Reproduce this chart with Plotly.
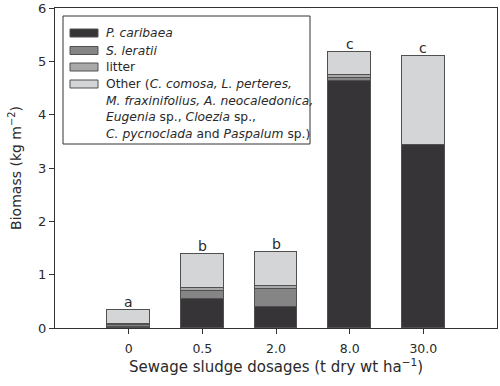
import plotly.graph_objects as go

# ---- data ----
dosages = ["0", "0.5", "2.0", "8.0", "30.0"]
p_caribaea = [0.02, 0.54, 0.39, 4.64, 3.43]
s_leratii = [0.03, 0.16, 0.35, 0.05, 0.00]
litter = [0.02, 0.05, 0.055, 0.05, 0.00]
other = [0.27, 0.63, 0.625, 0.44, 1.67]
sig_letters = ["a", "b", "b", "c", "c"]

series_names = ["P. caribaea", "S. leratii", "litter", "Other"]
series_colors = ["#363436", "#858585", "#a9a9a9", "#d4d5d7"]
legend_lines = [
    "<i>P. caribaea</i>",
    "<i>S. leratii</i>",
    "litter",
    "Other (<i>C. comosa, L. perteres,</i>",
    "<i>M. fraxinifolius, A. neocaledonica,</i>",
    "<i>Eugenia</i> sp., <i>Cloezia</i> sp.,",
    "<i>C. pycnoclada</i> and <i>Paspalum</i> sp.)",
]

FONT = "DejaVu Sans, Liberation Sans, sans-serif"
TXT = "#2a2a2a"
xpos = list(range(len(dosages)))

fig = go.Figure()
for name, vals, col in zip(series_names, [p_caribaea, s_leratii, litter, other], series_colors):
    fig.add_trace(go.Bar(
        x=xpos, y=vals, name=name, width=0.58,
        marker=dict(color=col, line=dict(color="#505050", width=1)),
        showlegend=False,
    ))

totals = [a + b + c + d for a, b, c, d in zip(p_caribaea, s_leratii, litter, other)]
for x, t, lab in zip(xpos, totals, sig_letters):
    fig.add_annotation(x=x, y=t, text=lab, showarrow=False, yanchor="bottom",
                       yshift=-2, font=dict(size=14, color=TXT, family=FONT))

# ---- manual legend (pixel layout converted to paper coords) ----
L, R, T, B = 55, 497, 8, 328
def px(x):
    return (x - L) / (R - L)
def py(y):
    return (B - y) / (B - T)

fig.add_shape(type="rect", xref="paper", yref="paper",
              x0=px(63), x1=px(310), y0=py(144), y1=py(16),
              line=dict(color="#333", width=1), fillcolor="white", layer="above")
row_y = [33, 50.5, 67, 84, 100.7, 117.4, 134]
for i, col in enumerate(series_colors):
    fig.add_shape(type="rect", xref="paper", yref="paper",
                  x0=px(70), x1=px(98), y0=py(row_y[i] + 4), y1=py(row_y[i] - 4),
                  line=dict(color="#505050", width=1), fillcolor=col, layer="above")
for i, txt in enumerate(legend_lines):
    fig.add_annotation(xref="paper", yref="paper", x=px(106), y=py(row_y[i]),
                       text=txt, showarrow=False, xanchor="left", yanchor="middle",
                       xshift=-2, font=dict(size=12.3, color=TXT, family=FONT))

fig.update_layout(
    width=500, height=386,
    margin=dict(l=L, r=500 - R, t=T, b=386 - B),
    paper_bgcolor="white", plot_bgcolor="white",
    barmode="stack", bargap=0,
    font=dict(family=FONT, color=TXT),
)
fig.update_xaxes(
    range=[-1, 5], tickmode="array", tickvals=xpos, ticktext=dosages,
    showline=True, linecolor="#333", linewidth=1, mirror=True,
    ticks="outside", ticklen=5, tickcolor="#333", showgrid=False, zeroline=False,
    tickfont=dict(size=12.5), automargin=False, ticklabelstandoff=4,
    title=dict(text="Sewage sludge dosages (t dry wt ha<sup>−1</sup>)", font=dict(size=15), standoff=4),
)
fig.update_yaxes(
    range=[0, 6], dtick=1,
    showline=True, linecolor="#333", linewidth=1, mirror=True,
    ticks="outside", ticklen=5, tickcolor="#333", showgrid=False, zeroline=False,
    tickfont=dict(size=13), automargin=False,
    title=dict(text="Biomass (kg m<sup>−2</sup>)", font=dict(size=14), standoff=13),
)

fig.write_html("out.html", config={"displayModeBar": False},
               post_script="document.body.style.margin='0';")
